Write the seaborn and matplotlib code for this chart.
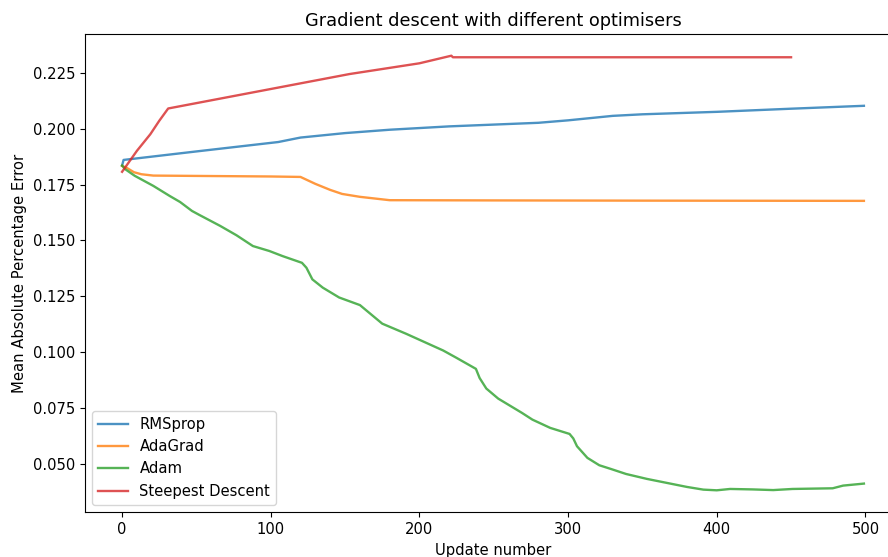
import matplotlib
matplotlib.use("Agg")
import matplotlib.pyplot as plt
import seaborn as sns
import pandas as pd

# --- data ---
rms_x = [0, 1, 50, 105, 120, 150, 180, 220, 280, 300, 330, 350, 400, 450, 499]
rms_y = [0.1835, 0.1860, 0.1898, 0.1940, 0.1960, 0.1980, 0.1995, 0.2010, 0.2026, 0.2037, 0.2057, 0.2064, 0.2075, 0.2089, 0.2102]

ada_x = [0, 3, 8, 13, 21, 60, 100, 120, 130, 140, 148, 160, 180, 250, 350, 499]
ada_y = [0.1833, 0.1825, 0.1805, 0.1796, 0.1790, 0.1788, 0.1786, 0.1784, 0.1753, 0.1726, 0.1708, 0.1695, 0.1680, 0.1679, 0.1678, 0.1677]

adam_x = [0, 2, 8.5, 21, 32, 39, 47, 52, 66, 77, 88, 99, 108, 121, 124, 128, 135, 146, 160,
          175, 191, 216, 225, 238, 240.5, 245, 253, 269, 276, 288, 301, 303.5, 306, 313, 321,
          329, 339, 353, 368, 380, 391, 400, 409, 424, 438, 451, 478, 485, 499]
adam_y = [0.1835, 0.1819, 0.1789, 0.1744, 0.1699, 0.1672, 0.1632, 0.1614, 0.1565, 0.1523, 0.1475,
          0.1453, 0.1430, 0.1400, 0.1378, 0.1326, 0.1289, 0.1245, 0.1211,
          0.1128, 0.1083, 0.1008, 0.0975, 0.0926, 0.0885, 0.0838, 0.0793, 0.0729, 0.0699,
          0.0662, 0.0635, 0.0615, 0.0580, 0.0528, 0.0495, 0.0478, 0.0456, 0.0434, 0.0414,
          0.0398, 0.0386, 0.0383, 0.0389, 0.0387, 0.0384, 0.0389, 0.0392, 0.0404, 0.0413]

sd_x = [0, 10, 19, 25, 31, 153, 200, 221.5, 222.5, 300, 400, 450]
sd_y = [0.1807, 0.1901, 0.1975, 0.2035, 0.2090, 0.2244, 0.2292, 0.2326, 0.2319, 0.2319, 0.2319, 0.2319]

series = [("RMSprop", rms_x, rms_y),
          ("AdaGrad", ada_x, ada_y),
          ("Adam", adam_x, adam_y),
          ("Steepest Descent", sd_x, sd_y)]
colors = ["#1f77b4", "#ff7f0e", "#2ca02c", "#d62728"]

plt.rcParams['font.family'] = ['DejaVu Sans']
plt.rcParams['font.size'] = 10.6
plt.rcParams['xtick.major.size'] = 3.7
plt.rcParams['ytick.major.size'] = 3.7
fig = plt.figure(figsize=(8.88, 5.57), dpi=100)
ax = fig.add_axes([85 / 888, 1 - 512 / 557, (901 - 85) / 888, (512 - 34) / 557])

for (name, xs, ys), c in zip(series, colors):
    df = pd.DataFrame({"Update number": xs, "MAPE": ys})
    sns.lineplot(data=df, x="Update number", y="MAPE", ax=ax, color=c,
                 alpha=0.8, linewidth=1.7, label=name)

ax.set_xlabel("Update number")
ax.set_ylabel("Mean Absolute Percentage Error")
ax.set_title("Gradient descent with different optimisers", fontsize=12.75)
ax.set_xticks([0, 100, 200, 300, 400, 500])
yt = [0.050, 0.075, 0.100, 0.125, 0.150, 0.175, 0.200, 0.225]
ax.set_yticks(yt)
ax.set_yticklabels([f"{v:.3f}" for v in yt])
ax.set_xlim(-24.95, 523.95)
ax.set_ylim(0.0286, 0.2423)
ax.legend(loc="lower left")

fig.savefig("out.png", dpi=100)
